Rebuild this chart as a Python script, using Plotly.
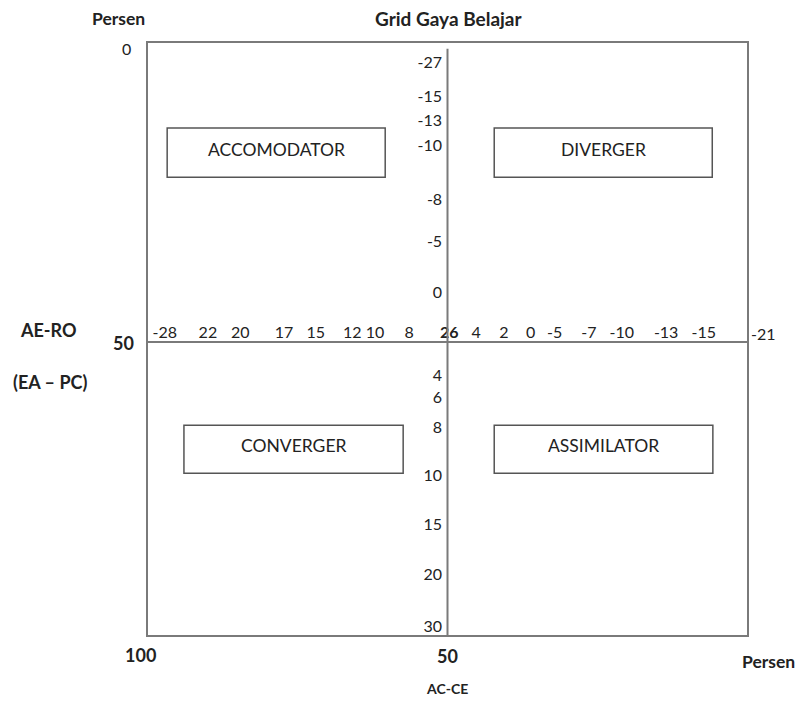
import plotly.graph_objects as go

# AC-CE raw scores (horizontal scale) and their percentile positions
ac_ce_scores = [-28, 22, 20, 17, 15, 12, 10, 8, 26, 4, 2, 0, -5, -7, -10, -13, -15, -21]
ac_ce_percentile = [97.2, 90.0, 84.6, 77.3, 72.0, 65.9, 62.1, 56.4, 49.7, 45.2, 40.6,
                    36.1, 32.1, 26.4, 20.9, 13.5, 7.2, -2.7]

# AE-RO raw scores (vertical scale) and their percentile positions
ae_ro_scores = [-27, -15, -13, -10, -8, -5, 0, 4, 6, 8, 10, 15, 20, 30]
ae_ro_percentile = [2.6, 8.4, 12.5, 16.7, 26.0, 33.1, 41.8, 56.0, 59.7, 64.9, 73.0,
                    81.4, 89.9, 98.8]

quadrants = ["ACCOMODATOR", "DIVERGER", "CONVERGER", "ASSIMILATOR"]

FONT = "Lato"
GREY = "#7a7a7a"
TXT = "#222222"
MID = 50  # percentile of the grid centre
X_RANGE = [100, 0]
Y_RANGE = [100, -1]

fig = go.Figure()

# horizontal scale labels inside the axis range as a text trace
inside = [(s, p) for s, p in zip(ac_ce_scores, ac_ce_percentile) if 0 <= p <= 100]
outside = [(s, p) for s, p in zip(ac_ce_scores, ac_ce_percentile) if not (0 <= p <= 100)]
fig.add_trace(go.Scatter(
    x=[p for _, p in inside], y=[MID] * len(inside), mode="text",
    text=[f"<b>{s}</b>" if s == 26 else str(s) for s, _ in inside],
    textposition="top center",
    textfont=dict(family=FONT, size=16, color=TXT),
    cliponaxis=False, hoverinfo="skip", showlegend=False))
# labels beyond the frame: place via paper coordinates derived from the axis range
for s, p in outside:
    xp = (p - X_RANGE[0]) / (X_RANGE[1] - X_RANGE[0])
    yp = (MID - Y_RANGE[0]) / (Y_RANGE[1] - Y_RANGE[0])
    fig.add_annotation(x=xp, y=yp, xref="paper", yref="paper", text=str(s),
                       showarrow=False, xanchor="center", yanchor="bottom", yshift=-3,
                       font=dict(family=FONT, size=16, color=TXT))

fig.add_trace(go.Scatter(
    x=[MID + 0.9] * len(ae_ro_percentile), y=ae_ro_percentile, mode="text",
    text=[str(s) for s in ae_ro_scores], textposition="middle left",
    textfont=dict(family=FONT, size=16, color=TXT),
    cliponaxis=False, hoverinfo="skip", showlegend=False))

# centre cross lines
fig.add_shape(type="line", x0=MID, x1=MID, y0=0, y1=100.3, xref="x", yref="y",
              line=dict(color=GREY, width=2))
fig.add_shape(type="line", x0=100, x1=0, y0=MID, y1=MID, xref="x", yref="y",
              line=dict(color=GREY, width=2))

# quadrant boxes
boxes = [
    (96.8, 60.4, 13.5, 21.9),
    (42.2, 5.8, 13.5, 21.9),
    (94.0, 57.4, 64.2, 72.4),
    (42.2, 5.7, 64.2, 72.4),
]
for name, (x0, x1, y0, y1) in zip(quadrants, boxes):
    fig.add_shape(type="rect", x0=x0, x1=x1, y0=y0, y1=y1, xref="x", yref="y",
                  line=dict(color="#555555", width=1.5), fillcolor="rgba(0,0,0,0)")
    fig.add_annotation(x=(x0 + x1) / 2, y=(y0 + y1) / 2 - 0.6, text=name,
                       showarrow=False, xref="x", yref="y",
                       font=dict(family=FONT, size=17.5, color=TXT))

OFF = 8  # page body margin
W, H = 805 - OFF, 707 - OFF
L, R, T, B = 148 - OFF, 58, 43 - OFF, 72
pw, ph = W - L - R, H - T - B

def px(x, y):
    return (x - OFF - L) / pw, 1 - (y - OFF - T) / ph

def lbl(text, pos, size=18, bold=True):
    fig.add_annotation(x=pos[0], y=pos[1], xref="paper", yref="paper",
                       text=f"<b>{text}</b>" if bold else text,
                       showarrow=False, xanchor="center", yanchor="middle",
                       font=dict(family=FONT, size=size, color=TXT))

lbl("Persen", px(118, 19), size=17.5)
lbl("Grid Gaya Belajar", px(449, 19), size=19)
lbl("0", px(126, 48), size=16, bold=False)
lbl("AE-RO", px(48, 330))
lbl("50", px(123, 343))
lbl("(EA – PC)", px(50, 382))
lbl("100", px(140, 655))
lbl("50", px(447, 656))
lbl("Persen", px(768, 661), size=17.5)
lbl("AC-CE", px(447, 688), size=14)

axis_common = dict(showgrid=False, zeroline=False, showticklabels=False, ticks="",
                   showline=True, mirror=True, linecolor=GREY, linewidth=2)
fig.update_layout(
    width=W, height=H,
    margin=dict(l=L, r=R, t=T, b=B),
    paper_bgcolor="white", plot_bgcolor="white",
    xaxis=dict(range=X_RANGE, **axis_common),
    yaxis=dict(range=Y_RANGE, **axis_common),
    showlegend=False,
)

fig.write_html("out.html")
